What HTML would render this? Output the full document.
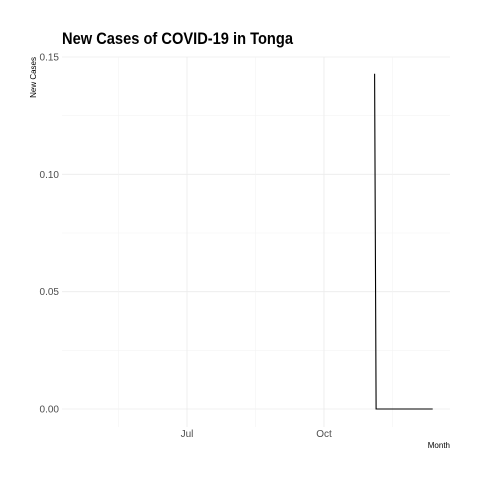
<!DOCTYPE html>
<html><head><meta charset="utf-8"><style>body{margin:0;background:#fff}svg{display:block}text{font-family:"Liberation Sans Narrow","Liberation Sans",sans-serif}</style></head>
<body>
<svg id="chart" width="480" height="480">
<text x="62" y="44" font-size="17" font-weight="bold" textLength="231" lengthAdjust="spacingAndGlyphs" fill="#000">New Cases of COVID-19 in Tonga</text>
<text transform="translate(36,57) rotate(-90)" text-anchor="end" font-size="8" fill="#000">New Cases</text>
<text x="450" y="448" text-anchor="end" font-size="8" fill="#000">Month</text>
<g id="grid"></g><g id="ticks"></g><g id="marks"></g>
</svg>
<script>
const xTickLabels = ["Jul", "Oct"];
const xTickDays = [0, 92];
const xMinorDays = [-46, 46, 138];
const yTicks = [0, 0.05, 0.10, 0.15];
const yTickLabels = ["0.00", "0.05", "0.10", "0.15"];
const dates = ["2020-11-04", "2020-11-05", "2020-12-13"];
const newCases = [0.1429, 0, 0];

const ns = "http://www.w3.org/2000/svg";
const origin = Date.UTC(2020, 6, 1);
function dayOf(s){const p=s.split("-");return (Date.UTC(+p[0],+p[1]-1,+p[2])-origin)/86400000;}
function xs(d){return 187 + d*1.489;}
function ys(v){return 409 - v*2346.7;}
function mk(tag, attrs, parent){const e=document.createElementNS(ns,tag);for(const k in attrs)e.setAttribute(k,attrs[k]);document.getElementById(parent).appendChild(e);return e;}
const L=62,R=450,T=57,B=427;
yTicks.forEach((v,i)=>{
  const g=mk("line",{x1:L,x2:R,y1:ys(v),y2:ys(v),stroke:"#ebebeb","stroke-width":0.8},"grid");
  
  
  if(i<yTicks.length-1){
    const m=mk("line",{x1:L,x2:R,y1:ys(v+0.025),y2:ys(v+0.025),stroke:"#f2f2f2","stroke-width":0.5},"grid");
    
    
  }
  const t=mk("text",{x:59,y:ys(v)+3.5,"text-anchor":"end","font-size":10,fill:"#4d4d4d"},"ticks");
  t.textContent=yTickLabels[i];
  
  
});
xTickDays.forEach((d,i)=>{
  const g=mk("line",{x1:xs(d),x2:xs(d),y1:T,y2:B,stroke:"#ebebeb","stroke-width":0.8},"grid");
  
  
  const t=mk("text",{x:xs(d),y:437,"text-anchor":"middle","font-size":10,fill:"#4d4d4d"},"ticks");
  t.textContent=xTickLabels[i];
  
  
});
xMinorDays.forEach(d=>{
  const m=mk("line",{x1:xs(d),x2:xs(d),y1:T,y2:B,stroke:"#f2f2f2","stroke-width":0.5},"grid");
  
  
});
const pts=dates.map((d,i)=>xs(dayOf(d)).toFixed(1)+","+ys(newCases[i]).toFixed(1)).join(" ");
const line=mk("polyline",{points:pts,fill:"none",stroke:"#000","stroke-width":1.1},"marks");


</script>
</body></html>
